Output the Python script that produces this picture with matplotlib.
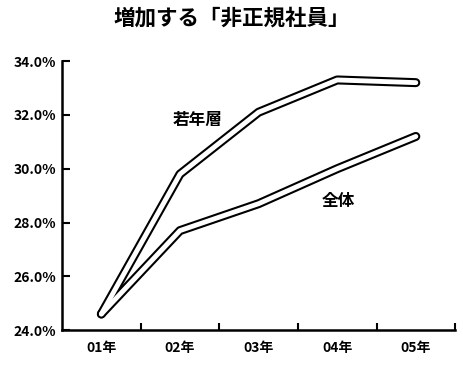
import matplotlib
matplotlib.use("Agg")
import matplotlib.pyplot as plt

plt.rcParams['font.family'] = ['Noto Sans CJK JP', 'DejaVu Sans']

years = ["01年", "02年", "03年", "04年", "05年"]
young = [24.6, 29.8, 32.1, 33.3, 33.2]   # 若年層
total = [24.6, 27.7, 28.7, 30.0, 31.2]   # 全体
yticks = [24, 26, 28, 30, 32, 34]

fig = plt.figure(figsize=(4.63, 3.66), dpi=100)
ax = fig.add_axes([0.134, 0.098, 0.849, 0.735])

x = list(range(len(years)))
for vals in (young, total):
    ax.plot(x, vals, color='black', lw=6.5, solid_capstyle='round',
            solid_joinstyle='round', zorder=2)
    ax.plot(x, vals, color='white', lw=3.5, solid_capstyle='round',
            solid_joinstyle='round', zorder=3)

ax.text(1.23, 31.8, "若年層", fontsize=12, fontweight='bold', ha='center', va='center')
ax.text(3.02, 28.8, "全体", fontsize=12, fontweight='bold', ha='center', va='center')

ax.set_xlim(-0.5, 4.5)
ax.set_ylim(24, 34)
ax.set_yticks(yticks)
ax.set_yticklabels([f"{v:.1f}%" for v in yticks], fontsize=10, fontweight='bold')
ax.set_xticks([i + 0.5 for i in x])
ax.set_xticklabels([])
ax.set_xticks(x, minor=True)
ax.set_xticklabels(years, minor=True, fontsize=10, fontweight='bold')
ax.tick_params(axis='x', which='minor', length=0, pad=8)
ax.tick_params(axis='x', which='major', direction='in', length=5, width=1.5)
ax.tick_params(axis='y', direction='in', length=6, width=1.5, pad=4)

for s in ('top', 'right'):
    ax.spines[s].set_visible(False)
for s in ('left', 'bottom'):
    ax.spines[s].set_linewidth(1.8)

fig.suptitle("増加する「非正規社員」", x=0.5, y=0.98, fontsize=15.5, fontweight='bold')

fig.savefig("out.png", dpi=100)
